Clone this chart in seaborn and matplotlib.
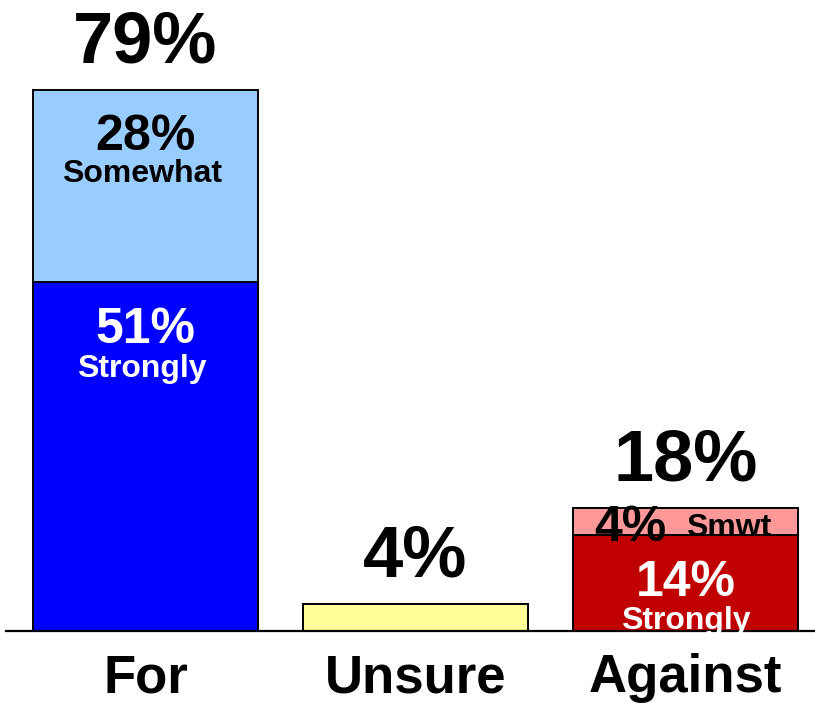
import matplotlib
matplotlib.use("Agg")
import matplotlib.pyplot as plt
import seaborn as sns
import pandas as pd

# Survey results
categories = ["For", "Unsure", "Against"]
strongly = [51, 4, 14]
somewhat = [28, 0, 4]
totals = [s + w for s, w in zip(strongly, somewhat)]
total_labels = ["79%", "4%", "18%"]

sns.set_theme(style="white")
plt.rcParams["font.family"] = ["Liberation Sans", "DejaVu Sans"]
plt.rcParams["font.weight"] = "bold"

fig = plt.figure(figsize=(8.15, 7.08), dpi=100)
px_per_unit = 6.85
ymax = 90
ax = fig.add_axes([6 / 815, 77 / 708, 809 / 815, ymax * px_per_unit / 708])

df = pd.DataFrame({"cat": categories, "total": totals, "strong": strongly})

top_colors = ["#99CCFF", "#FFFF99", "#FF9999"]
base_colors = ["#0000FF", "#FFFF99", "#C00000"]

sns.barplot(data=df, x="cat", y="total", hue="cat", palette=top_colors,
            width=0.833, edgecolor="black", linewidth=1.4, legend=False, ax=ax,
            saturation=1)
sns.barplot(data=df, x="cat", y="strong", hue="cat", palette=base_colors,
            width=0.833, edgecolor="black", linewidth=1.4, legend=False, ax=ax,
            saturation=1)

ax.set_xlim(-0.517, 2.48)
ax.set_ylim(0, ymax)
for side in ["top", "left", "right"]:
    ax.spines[side].set_visible(False)
ax.spines["bottom"].set_linewidth(1.6)
ax.spines["bottom"].set_color("black")
ax.set_yticks([])
ax.set_xlabel("")
ax.set_ylabel("")
ax.tick_params(axis="x", length=0, pad=16)
ax.set_xticks(range(len(categories)))
ax.set_xticklabels(categories, fontsize=38, fontweight="bold", color="black")
ax.get_xticklabels()[2].set_x(2.02)

# Totals above each bar
for i, (t, lab) in enumerate(zip(totals, total_labels)):
    ax.text(i, t + 4, lab, ha="center", va="baseline", fontsize=52,
            fontweight="bold", color="black")

# Segment labels inside the For bar
ax.text(0, totals[0] - 8.8, f"{somewhat[0]}%", ha="center", va="baseline",
        fontsize=36, fontweight="bold", color="black")
ax.text(-0.013, totals[0] - 13.5, "Somewhat", ha="center", va="baseline",
        fontsize=23, fontweight="bold", color="black")
ax.text(0, strongly[0] - 9.0, f"{strongly[0]}%", ha="center", va="baseline",
        fontsize=36, fontweight="bold", color="white")
ax.text(-0.013, strongly[0] - 13.9, "Strongly", ha="center", va="baseline",
        fontsize=23, fontweight="bold", color="white")

# Segment labels inside the Against bar
ax.text(2 - 0.205, strongly[2] - 0.8, f"{somewhat[2]}%", ha="center", va="baseline",
        fontsize=36, fontweight="bold", color="black")
ax.text(2 + 0.16, strongly[2] - 0.1, "Smwt", ha="center", va="baseline",
        fontsize=23, fontweight="bold", color="black")
ax.text(2, strongly[2] - 8.9, f"{strongly[2]}%", ha="center", va="baseline",
        fontsize=36, fontweight="bold", color="white")
ax.text(2, strongly[2] - 13.7, "Strongly", ha="center", va="baseline",
        fontsize=23, fontweight="bold", color="white")

fig.savefig("out.png", dpi=100, facecolor="white")
